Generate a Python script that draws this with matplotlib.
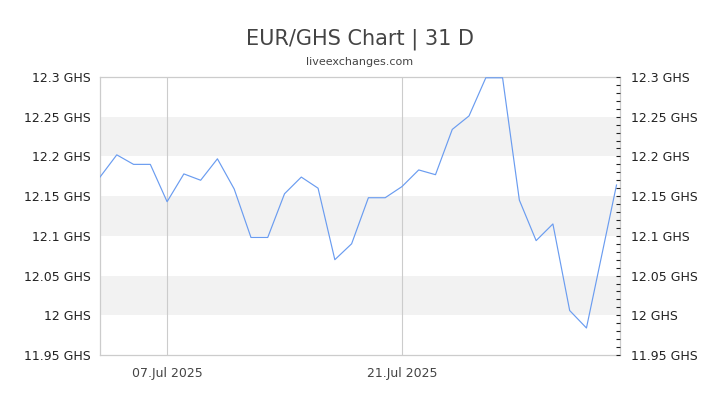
"""EUR/GHS 31-day chart, liveexchanges style."""
import matplotlib
matplotlib.use("Agg")
import matplotlib.pyplot as plt
import matplotlib.dates as mdates
import numpy as np
import pandas as pd
from matplotlib.ticker import FixedLocator, MultipleLocator

# daily quotes, last one is an intraday reading
DATES = [
    "2025-07-03", "2025-07-04", "2025-07-05", "2025-07-06", "2025-07-07",
    "2025-07-08", "2025-07-09", "2025-07-10", "2025-07-11", "2025-07-12",
    "2025-07-13", "2025-07-14", "2025-07-15", "2025-07-16", "2025-07-17",
    "2025-07-18", "2025-07-19", "2025-07-20", "2025-07-21", "2025-07-22",
    "2025-07-23", "2025-07-24", "2025-07-25", "2025-07-26", "2025-07-27",
    "2025-07-28", "2025-07-29", "2025-07-30", "2025-07-31", "2025-08-01",
    "2025-08-02 19:00",
]
RATES = [
    12.174, 12.202, 12.190, 12.190, 12.143,
    12.178, 12.170, 12.197, 12.159, 12.098,
    12.098, 12.153, 12.174, 12.160, 12.070,
    12.090, 12.148, 12.148, 12.162, 12.183,
    12.177, 12.234, 12.251, 12.299, 12.299,
    12.145, 12.094, 12.115, 12.006, 11.984,
    12.164,
]
Y_TICKS = [11.95, 12.0, 12.05, 12.1, 12.15, 12.2, 12.25, 12.3]
Y_LABELS = ["11.95 GHS", "12 GHS", "12.05 GHS", "12.1 GHS",
            "12.15 GHS", "12.2 GHS", "12.25 GHS", "12.3 GHS"]
BANDS = [(12.0, 12.05), (12.1, 12.15), (12.2, 12.25)]
X_TICKS = ["2025-07-07", "2025-07-21"]
X_RANGE = ("2025-07-03", "2025-08-03")

LINE_COLOR = "#6a9cf0"
GRID_COLOR = "#cccccc"
BAND_COLOR = "#f2f2f2"

W, H = 720, 405
fig = plt.figure(figsize=(W / 100, H / 100), dpi=100)
ax = fig.add_axes([100 / W, (H - 355) / H, 520 / W, 278 / H])

x = pd.to_datetime(DATES, format="mixed")
ax.plot(x, RATES, color=LINE_COLOR, lw=0.85, zorder=3)

for lo, hi in BANDS:
    ax.axhspan(lo, hi, color=BAND_COLOR, lw=0, zorder=0)
for d in X_TICKS:
    ax.axvline(pd.Timestamp(d), color=GRID_COLOR, lw=0.8, zorder=1)

ax.set_xlim(pd.Timestamp(X_RANGE[0]), pd.Timestamp(X_RANGE[1]))
ax.set_ylim(Y_TICKS[0], Y_TICKS[-1])

ax.xaxis.set_major_locator(FixedLocator(mdates.date2num(pd.to_datetime(X_TICKS))))
ax.xaxis.set_major_formatter(mdates.DateFormatter("%d.%b %Y"))
ax.tick_params(axis="x", length=0, pad=9, labelsize=9, labelcolor="#444444")

ax.set_yticks(Y_TICKS)
ax.set_yticklabels(Y_LABELS)
ax.tick_params(axis="y", length=0, pad=6.5, labelsize=9, labelcolor="#222222")

for sp in ax.spines.values():
    sp.set_color(GRID_COLOR)
    sp.set_linewidth(0.9)

# right-hand copy of the scale with small inward ticks
ax2 = ax.twinx()
ax2.set_ylim(ax.get_ylim())
ax2.set_yticks(Y_TICKS)
ax2.set_yticklabels(Y_LABELS)
ax2.yaxis.set_minor_locator(MultipleLocator(0.01))
ax2.tick_params(axis="y", which="both", direction="in", length=3, width=0.8,
                color="#222222", pad=8, labelsize=9, labelcolor="#222222")
for sp in ax2.spines.values():
    sp.set_visible(False)

fig.text(0.5, (H - 39) / H, "EUR/GHS Chart | 31 D", ha="center", va="center",
         fontsize=15, color="#444444")
fig.text(0.5, (H - 62) / H, "liveexchanges.com", ha="center", va="center",
         fontsize=8, color="#444444")

fig.savefig("out.png", dpi=100)
